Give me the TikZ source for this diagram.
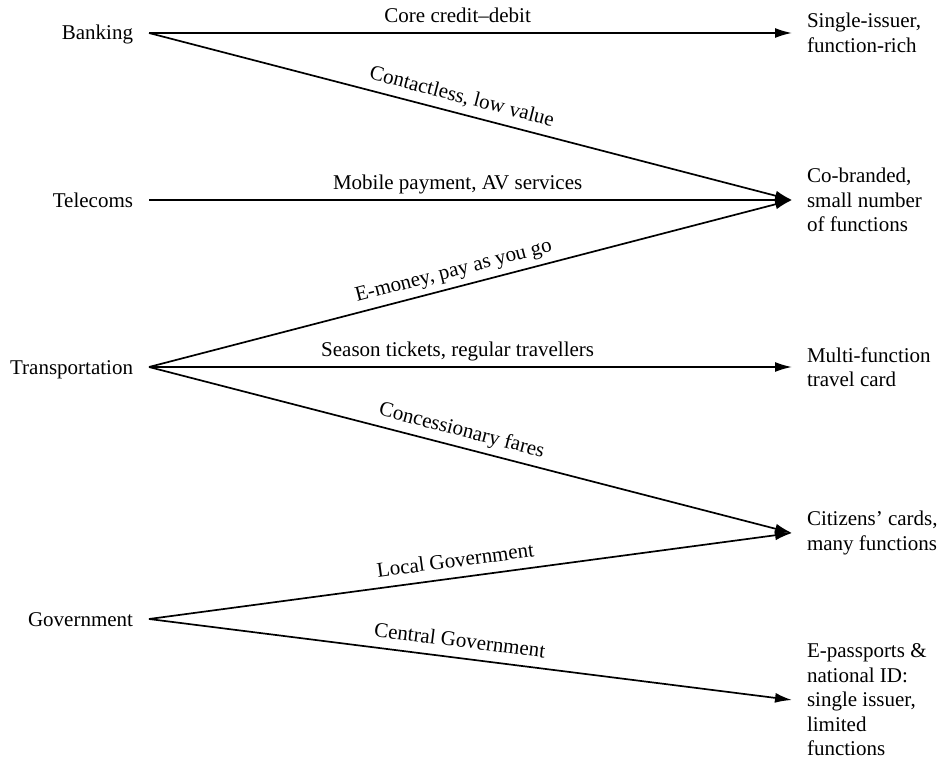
\documentclass[tikz,border=0pt]{standalone}
\usepackage{fontspec}
\setmainfont{Liberation Serif}
\usetikzlibrary{arrows.meta,positioning}

\begin{document}
\begin{tikzpicture}[x=0.5pt, y=-0.5pt,
                    font=\fontsize{10.5}{12.25}\selectfont,
                    sector/.style={anchor=east, text height=7pt, text depth=0pt, inner sep=0pt, outer xsep=8pt},
                    card/.style={anchor=west, align=left, inner sep=0pt, outer xsep=7.5pt},
                    flow/.style={-{Latex[length=8.5pt,width=5pt]}, line width=0.85pt},
                    use/.style={pos=0.48, sloped, above, inner xsep=0pt, inner ysep=5pt, text depth=0pt}]
  \useasboundingbox (0,0) rectangle (946,759);

  % sectors on the left
  \node[sector] (banking)   at (149,33)  {Banking};
  \node[sector] (telecoms)  at (149,200) {Telecoms};
  \node[sector] (transport) at (149,367) {Transportation};
  \node[sector] (govt)      at (149,619) {Government};

  % kinds of card on the right
  \node[card] (single)   at (792,33)  {Single-issuer,\\function-rich};
  \node[card] (cobrand)  at (792,200) {Co-branded,\\small number\\of functions};
  \node[card] (travel)   at (792,367) {Multi-function\\travel card};
  \node[card] (citizen)  at (792,533) {Citizens’ cards,\\many functions};
  \node[card] (passport) at (792,700) {E-passports \&\\national ID:\\single issuer,\\limited\\functions};

  \draw[flow] (banking.east)   -- node[use] {Core credit–debit} (single.west);
  \draw[flow] (banking.east)   -- node[use] {Contactless, low value} (cobrand.west);
  \draw[flow] (telecoms.east)  -- node[use] {Mobile payment, AV services} (cobrand.west);
  \draw[flow] (transport.east) -- node[use] {E-money, pay as you go} (cobrand.west);
  \draw[flow] (transport.east) -- node[use] {Season tickets, regular travellers} (travel.west);
  \draw[flow] (transport.east) -- node[use] {Concessionary fares} (citizen.west);
  \draw[flow] (govt.east)      -- node[use] {Local Government} (citizen.west);
  \draw[flow] (govt.east)      -- node[use] {Central Government} (passport.west);
\end{tikzpicture}
\end{document}
